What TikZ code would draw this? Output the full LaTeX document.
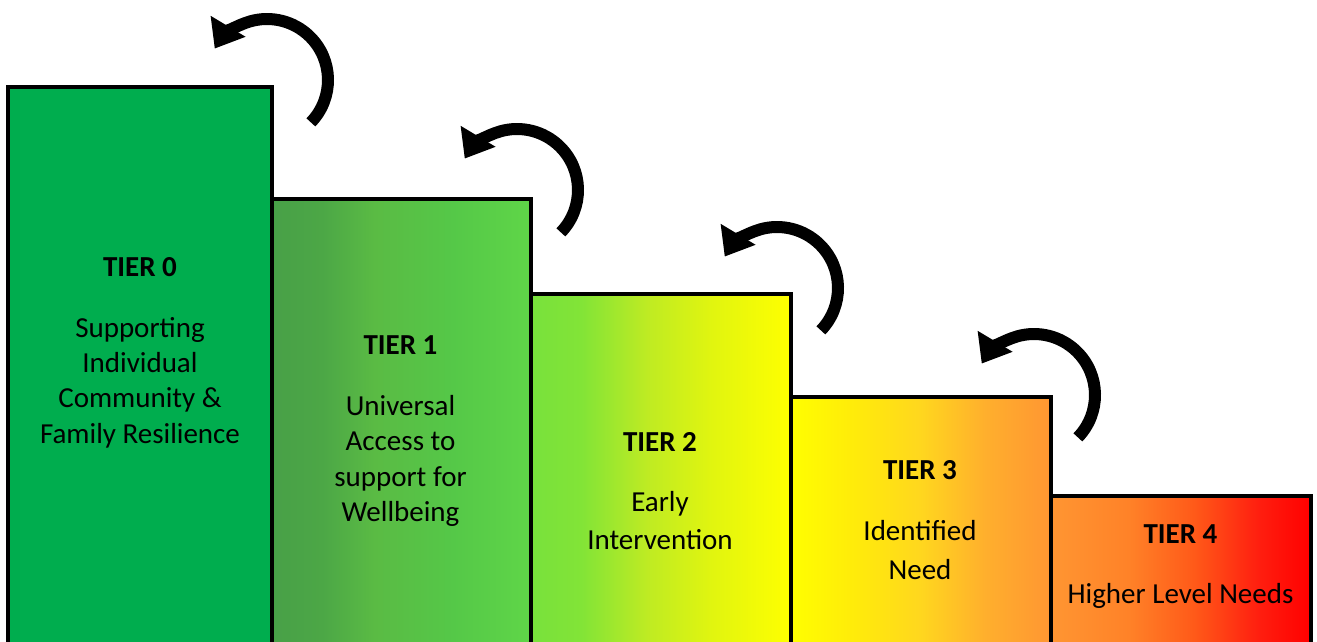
\documentclass[tikz,border=0pt]{standalone}
\usepackage{fontspec}
\setmainfont{Carlito}
\usetikzlibrary{arrows.meta}
\definecolor{tzero}{RGB}{0,173,78}
\pgfdeclarehorizontalshading{tonesh}{100bp}{rgb(0bp)=(0.282,0.627,0.282); rgb(25bp)=(0.282,0.627,0.282); rgb(35bp)=(0.298,0.655,0.275); rgb(45bp)=(0.353,0.733,0.267); rgb(60bp)=(0.333,0.784,0.282); rgb(75bp)=(0.373,0.839,0.282); rgb(100bp)=(0.373,0.839,0.282)}
\pgfdeclarehorizontalshading{ttwosh}{100bp}{rgb(0bp)=(0.471,0.882,0.235); rgb(25bp)=(0.471,0.882,0.235); rgb(35bp)=(0.51,0.894,0.216); rgb(47.5bp)=(0.745,0.922,0.137); rgb(60bp)=(0.882,0.961,0.059); rgb(75bp)=(1,1,0); rgb(100bp)=(1,1,0)}
\pgfdeclarehorizontalshading{tthreesh}{100bp}{rgb(0bp)=(1,1,0); rgb(25bp)=(1,1,0); rgb(37.5bp)=(1,0.922,0.039); rgb(50bp)=(1,0.843,0.118); rgb(62.5bp)=(1,0.686,0.176); rgb(75bp)=(1,0.588,0.196); rgb(100bp)=(1,0.588,0.196)}
\pgfdeclarehorizontalshading{tfoursh}{100bp}{rgb(0bp)=(1,0.588,0.196); rgb(25bp)=(1,0.588,0.196); rgb(40bp)=(1,0.51,0.157); rgb(52.5bp)=(1,0.353,0.098); rgb(65bp)=(1,0.118,0.059); rgb(75bp)=(1,0,0); rgb(100bp)=(1,0,0)}
\begin{document}
\begin{tikzpicture}[x=1pt,y=-1pt,
  tierbox/.style={draw=black,line width=4pt},
  title/.style={anchor=base,inner sep=0pt,font=\fontsize{29}{35}\selectfont\bfseries},
  body/.style={anchor=base,inner sep=0pt,font=\fontsize{29}{35}\selectfont},
  curvearrow/.style={line width=12pt,-{Triangle[length=26pt,width=39pt]}}]
\clip (0,0) rectangle (1317,642);
\fill[white] (0,0) rectangle (1317,642);
% boxes
\shadedraw[tierbox,shading=tfoursh] (1050,496) rectangle (1311,700);
\shadedraw[tierbox,shading=tthreesh] (789,397) rectangle (1051,700);
\shadedraw[tierbox,shading=ttwosh] (529,294) rectangle (791,700);
\shadedraw[tierbox,shading=tonesh] (270,199) rectangle (531,700);
\filldraw[tierbox,fill=tzero] (8,87) rectangle (272,700);
% arrows
\coordinate (c1) at (267,80);
\coordinate (c2) at (517,190);
\coordinate (c3) at (777,288);
\coordinate (c4) at (1034,395);
\foreach \c in {c1,c2,c3,c4}
  \draw[curvearrow] (\c) ++(44:61) arc[start angle=44,end angle=-149,radius=61];
% texts
\node[title] (h0) at (140,276) {TIER 0};
\node[body] (b0a) at (140,337) {Supporting};
\node[body] (b0b) at (140,372) {Individual};
\node[body] (b0c) at (140,407) {Community \&};
\node[body] (b0d) at (140,443) {Family Resilience};
\node[title] (h1) at (400.5,354) {TIER 1};
\node[body] (b1a) at (400.5,415) {Universal};
\node[body] (b1b) at (400.5,450) {Access to};
\node[body] (b1c) at (400.5,486) {support for};
\node[body] (b1d) at (400.5,521) {Wellbeing};
\node[title] (h2) at (660,451) {TIER 2};
\node[body] (b2a) at (660,511) {Early};
\node[body] (b2b) at (660,549) {Intervention};
\node[title] (h3) at (920,479) {TIER 3};
\node[body] (b3a) at (920,540) {Identified};
\node[body] (b3b) at (920,579) {Need};
\node[title] (h4) at (1180.5,543) {TIER 4};
\node[body] (b4a) at (1180.5,603) {Higher Level Needs};
\end{tikzpicture}
\end{document}
